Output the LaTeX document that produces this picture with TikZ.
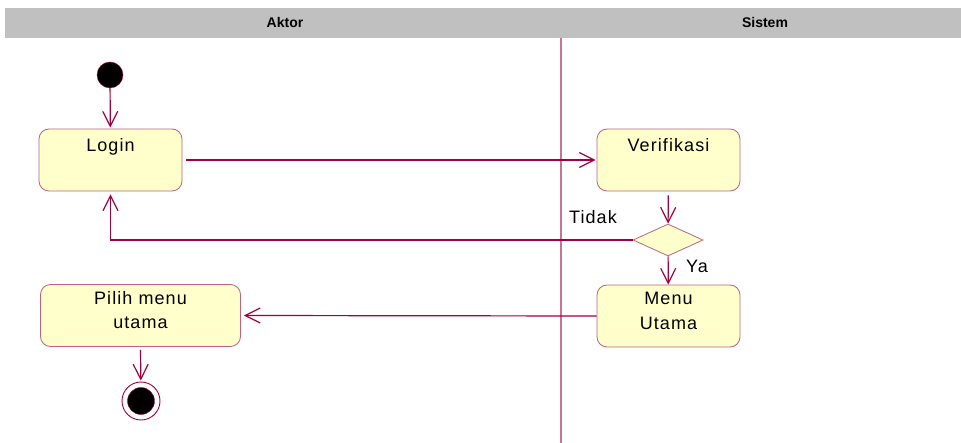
\documentclass[tikz,border=0pt]{standalone}
\usepackage{fontspec}
\setmainfont{Liberation Sans}
\newfontfamily\boxfont[LetterSpace=6]{Liberation Sans}
\usetikzlibrary{arrows.meta,shapes.geometric}
\definecolor{flowred}{HTML}{9E0040}
\definecolor{boxedge}{HTML}{C0607F}
\definecolor{laneline}{HTML}{C87296}
\definecolor{boxfill}{HTML}{FFFFCC}
\definecolor{lanegray}{HTML}{C0C0C0}
\tikzset{
  actbox/.style={draw=boxedge, fill=boxfill, rounded corners=10pt, line width=0.8pt,
    minimum width=143pt, minimum height=62pt, inner sep=4pt, align=center,
    font=\boxfont\fontsize{18}{24.5}\selectfont},
  oneline/.style={text height=19pt, text depth=35pt},
  twoline/.style={text height=40.3pt, text depth=13.7pt},
  flow/.style={draw=flowred, line width=1.2pt, -{Straight Barb[length=15pt,width=15pt]}},
  lanetitle/.style={font=\bfseries\fontsize{14}{16}\selectfont},
  guard/.style={font=\boxfont\fontsize{18}{22}\selectfont}
}
\begin{document}
\begin{tikzpicture}[x=1pt,y=-1pt]
  \useasboundingbox (0,0) rectangle (961,443);
  % Swimlanes
  \fill[lanegray] (5,8) rectangle (961,38);
  \node[lanetitle] (aktor) at (285,22.5) {Aktor};
  \node[lanetitle] (sistem) at (765,22.5) {Sistem};
  \draw[laneline, line width=1.4pt] (561,38) -- (561,443);
  % Start and end
  \node[circle, draw=flowred, fill=black, minimum size=26pt, inner sep=0] (start) at (110,75) {};
  \node[circle, draw=flowred, line width=0.9pt, minimum size=38pt, inner sep=0] (stop) at (141,401) {};
  \node[circle, draw=flowred, fill=black, minimum size=27pt, inner sep=0] (stopdot) at (stop) {};
  % Activities
  \node[actbox, oneline] (login) at (110.5,160) {Login};
  \node[actbox, oneline] (verif) at (668.5,160) {Verifikasi};
  \node[diamond, draw=boxedge, fill=boxfill, line width=0.8pt, minimum width=70pt,
    minimum height=32pt, inner sep=0] (cek) at (668,240) {};
  \node[actbox, twoline] (menu) at (668.5,316) {Menu\\Utama};
  \node[actbox, twoline, minimum width=200pt] (pilih) at (140.5,315.5) {Pilih menu\\utama};
  % Flows
  \draw[flow, shorten >=1pt] (start) -- (login);
  \draw[flow, shorten <=4pt, shorten >=1pt] (login.east) -- (verif.west);
  \draw[flow, shorten <=4pt] (verif) -- (cek);
  \draw[flow, shorten >=3pt] (cek.west) -| (login.south);
  \node[guard] (tidak) at (593,217) {Tidak};
  \draw[flow] (cek) -- (menu);
  \node[guard] (ya) at (697,266) {Ya};
  \draw[flow, shorten >=3pt] (menu.west) -- (pilih.east);
  \draw[flow, shorten <=3pt, shorten >=1pt] (pilih.south) -- (stop);
\end{tikzpicture}
\end{document}
